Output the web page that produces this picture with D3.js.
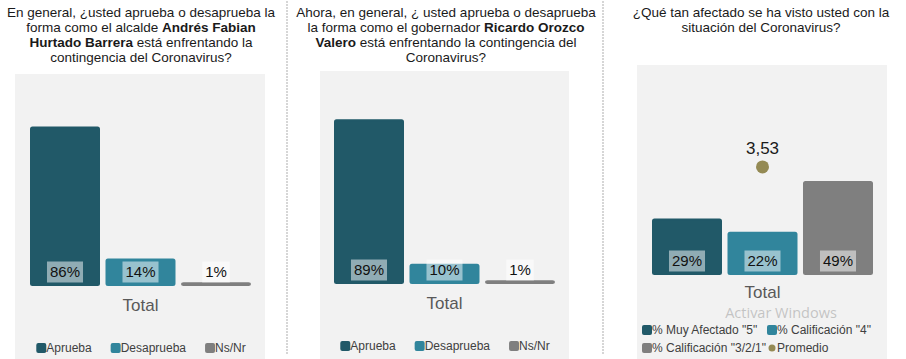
<!DOCTYPE html>
<html>
<head>
<meta charset="utf-8">
<script src="https://cdn.jsdelivr.net/npm/d3@7"></script>
<style>
  html, body { margin: 0; padding: 0; background: #ffffff; }
  svg { display: block; font-family: "Liberation Sans", Arial, sans-serif; }
</style>
</head>
<body>
<svg id="chart" width="906" height="359"></svg>
<script>
// ---------------- DATA ----------------
const approvalCategories = ["Aprueba", "Desaprueba", "Ns/Nr"];
const alcaldeValues = [0.86, 0.14, 0.01];
const gobernadorValues = [0.89, 0.10, 0.01];
const afectadoCategories = ['% Muy Afectado "5"', '% Calificación "4"', '% Calificación "3/2/1"'];
const afectadoValues = [0.29, 0.22, 0.49];
const promedioLabel = "Promedio";
const promedioValues = [3.53];
const groupLabels = ["Total"];

const title1 = [
  [["En general, ¿usted aprueba o desaprueba la", false]],
  [["forma como el alcalde ", false], ["Andrés Fabian", true]],
  [["Hurtado Barrera", true], [" está enfrentando la", false]],
  [["contingencia del Coronavirus?", false]]
];
const title2 = [
  [["Ahora, en general, ¿ usted aprueba o desaprueba", false]],
  [["la forma como el gobernador ", false], ["Ricardo Orozco", true]],
  [["Valero", true], [" está enfrentando la contingencia del", false]],
  [["Coronavirus?", false]]
];
const title3 = [
  [["¿Qué tan afectado se ha visto usted con la", false]],
  [["situación del Coronavirus?", false]]
];

// ---------------- STYLE ----------------
const barColors = ["#215968", "#31859c", "#7f7f7f"];
const dotColor = "#948a54";
const panelBg = "#f2f2f2";
const fmtPct = d3.format(".0%");
const esLocale = d3.formatLocale({decimal: ",", thousands: ".", grouping: [3], currency: ["$", ""]});
const fmtDec = esLocale.format(".2f");

const svg = d3.select("#chart");

// dashed separators
[287, 603].forEach(x => {
  svg.append("line").attr("x1", x).attr("x2", x).attr("y1", 1).attr("y2", 355)
    .attr("stroke", "#adadad").attr("stroke-width", 1).attr("stroke-dasharray", "2,1");
});

function drawTitle(lines, cx, y0) {
  const t = svg.append("text").attr("text-anchor", "middle")
    .attr("font-size", 13.5).attr("fill", "#1a1a1a");
  lines.forEach((parts, i) => {
    const line = t.append("tspan").attr("x", cx).attr("y", y0 + i * 15);
    parts.forEach(([txt, bold]) => {
      line.append("tspan").attr("font-weight", bold ? "bold" : "normal").text(txt);
    });
  });
}

function drawBars(cfg) {
  const {categories, values, bg, xRange, baseline, fullHeight, axisPad} = cfg;
  svg.append("rect").attr("x", bg[0]).attr("y", bg[1]).attr("width", bg[2]).attr("height", bg[3])
    .attr("fill", panelBg);

  const x = d3.scaleBand().domain(categories).range(xRange).paddingInner(0.0993).paddingOuter(0);
  const y = d3.scaleLinear().domain([0, 1]).range([baseline, baseline - fullHeight]);
  const g = svg.append("g");

  g.selectAll("rect.bar").data(values).join("rect").attr("class", "bar")
    .attr("x", (d, i) => x(categories[i]))
    .attr("y", d => y(d))
    .attr("width", x.bandwidth())
    .attr("height", d => y(0) - y(d))
    .attr("rx", 1.5)
    .attr("fill", (d, i) => barColors[i])
    .attr("stroke", (d, i) => barColors[i])
    .attr("stroke-width", 2)
    .attr("stroke-linejoin", "round");

  const labels = g.selectAll("g.lbl").data(values).join("g").attr("class", "lbl")
    .attr("transform", (d, i) => `translate(${x(categories[i]) + x.bandwidth() / 2},${y(0) - 13})`);
  labels.append("text").attr("text-anchor", "middle").attr("dy", "0.36em")
    .attr("font-size", 15).attr("fill", "#111").text(d => fmtPct(d));
  labels.each(function () {
    const gg = d3.select(this);
    const w = gg.select("text").node().getComputedTextLength();
    gg.insert("rect", "text").attr("x", -w / 2 - 3).attr("y", -10.5)
      .attr("width", w + 6).attr("height", 21).attr("fill", "#ffffff").attr("fill-opacity", 0.5);
  });

  // category axis: "Total"
  const xg = d3.scaleBand().domain(groupLabels).range(xRange);
  const ax = svg.append("g").attr("transform", `translate(0,${baseline + 1})`)
    .call(d3.axisBottom(xg).tickSize(0).tickPadding(axisPad));
  ax.select(".domain").remove();
  ax.selectAll("text").attr("font-size", 17).attr("fill", "#595959")
    .attr("font-family", "Liberation Sans, Arial, sans-serif");

  return {x, y};
}

function drawLegendRow(items, cx, cy, gap) {
  const g = svg.append("g");
  const nodes = [];
  items.forEach(it => {
    const ig = g.append("g");
    ig.append("rect").attr("x", 0).attr("y", -5).attr("width", 10).attr("height", 10)
      .attr("rx", 2).attr("fill", it.color);
    const t = ig.append("text").attr("x", 10).attr("y", 4.2)
      .attr("font-size", 12).attr("fill", "#404040").text(it.label);
    const w = 10 + t.node().getComputedTextLength();
    nodes.push({ig, w});
  });
  const total = d3.sum(nodes, n => n.w) + gap * (nodes.length - 1);
  let xx = cx - total / 2;
  nodes.forEach(n => { n.ig.attr("transform", `translate(${xx},${cy})`); xx += n.w + gap; });
}

// ---------------- PANEL 1 ----------------
drawTitle(title1, 141, 17);
drawBars({categories: approvalCategories, values: alcaldeValues, bg: [15, 74, 250, 285],
  xRange: [31, 250], baseline: 285, fullHeight: 183, axisPad: 13});
drawLegendRow(approvalCategories.map((c, i) => ({label: c, color: barColors[i]})), 141, 348, 19);

// ---------------- PANEL 2 ----------------
drawTitle(title2, 446, 17);
drawBars({categories: approvalCategories, values: gobernadorValues, bg: [320, 71, 249, 288],
  xRange: [335, 554], baseline: 283, fullHeight: 183, axisPad: 13});
drawLegendRow(approvalCategories.map((c, i) => ({label: c, color: barColors[i]})), 445, 346, 19);

// ---------------- PANEL 3 ----------------
drawTitle(title3, 761, 17);
const p3 = drawBars({categories: afectadoCategories, values: afectadoValues, bg: [637, 65, 250, 294],
  xRange: [653, 872], baseline: 274, fullHeight: 188, axisPad: 11});

// watermark (as in reference screenshot)
svg.append("text").attr("x", 781).attr("y", 318).attr("text-anchor", "middle")
  .attr("font-family", "Open Sans, DejaVu Sans, sans-serif").attr("font-size", 14.5)
  .attr("fill", "#b4b4b4").attr("fill-opacity", 0.75).text("Activar Windows");

// promedio on secondary axis
const y2 = d3.scaleLinear().domain([0, 6.2]).range([274, 86]);
const xc = p3.x(afectadoCategories[1]) + p3.x.bandwidth() / 2;
svg.selectAll("circle.prom").data(promedioValues).join("circle").attr("class", "prom")
  .attr("cx", xc).attr("cy", d => y2(d)).attr("r", 6.5).attr("fill", dotColor);
svg.selectAll("text.prom").data(promedioValues).join("text").attr("class", "prom")
  .attr("x", xc).attr("y", d => y2(d) - 13).attr("text-anchor", "middle")
  .attr("font-size", 17).attr("fill", "#1a1a1a").text(d => fmtDec(d));

// legend panel 3 (two columns)
const leg3 = [
  {label: afectadoCategories[0], color: barColors[0], col: 0, row: 0},
  {label: afectadoCategories[1], color: barColors[1], col: 1, row: 0},
  {label: afectadoCategories[2], color: barColors[2], col: 0, row: 1},
  {label: promedioLabel, color: dotColor, col: 1, row: 1, type: "dot"}
];
const colX = [642, 767], rowY = [330, 348];
leg3.forEach(it => {
  const ig = svg.append("g").attr("transform", `translate(${colX[it.col]},${rowY[it.row]})`);
  if (it.type === "dot") {
    ig.append("circle").attr("cx", 5).attr("cy", 0).attr("r", 3.5).attr("fill", it.color);
  } else {
    ig.append("rect").attr("x", 0).attr("y", -5).attr("width", 10).attr("height", 10)
      .attr("rx", 2).attr("fill", it.color);
  }
  ig.append("text").attr("x", 10).attr("y", 4.2).attr("font-size", 12).attr("fill", "#404040")
    .text(it.label);
});
</script>
</body>
</html>
